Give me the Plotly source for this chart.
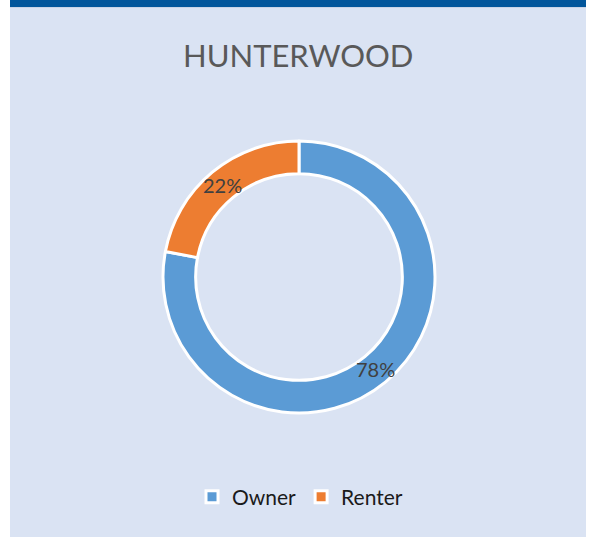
import math
import plotly.graph_objects as go

# tenure split for the neighbourhood
labels = ['Owner', 'Renter']
shares = [78, 22]
colors = ['#5B9BD5', '#ED7D31']

W, H = 590, 537
cx, cy, r_out = 299, 277, 136   # ring centre / radius in px (from top-left)
hole = 0.76

fig = go.Figure(go.Pie(
    labels=labels,
    values=shares,
    hole=hole,
    sort=False,
    direction='clockwise',
    rotation=0,
    marker=dict(colors=colors, line=dict(color='white', width=3)),
    textinfo='none',
    domain=dict(x=[(cx - r_out) / W, (cx + r_out) / W],
                y=[(H - cy - r_out) / H, (H - cy + r_out) / H]),
))

# percent labels at the middle of each slice, like excel does
total = sum(shares)
r_mid = r_out * (1 + hole) / 2
start = 0
for v in shares:
    ang = math.radians((start + v / 2) / total * 360)
    px_ = cx + r_mid * math.sin(ang)
    py_ = cy - r_mid * math.cos(ang)
    fig.add_annotation(text=f'{round(v / total * 100)}%', xref='paper', yref='paper',
                       x=px_ / W, y=(H - py_) / H, showarrow=False,
                       xanchor='center', yanchor='middle',
                       font=dict(family='Lato', size=20, color='#404040'))
    start += v

# panel background and dark band at the top
fig.add_shape(type='rect', xref='paper', yref='paper', layer='below',
              x0=10 / W, x1=586 / W, y0=0, y1=1,
              fillcolor='#DAE3F3', line_width=0)
fig.add_shape(type='rect', xref='paper', yref='paper', layer='below',
              x0=10 / W, x1=586 / W, y0=(H - 8) / H, y1=(H - 7) / H,
              fillcolor='#C9D4E6', line_width=0)
fig.add_shape(type='rect', xref='paper', yref='paper', layer='below',
              x0=10 / W, x1=586 / W, y0=(H - 7) / H, y1=1,
              fillcolor='#02569B', line_width=0)

fig.add_annotation(text='HUNTERWOOD', xref='paper', yref='paper',
                   x=297.5 / W, y=(H - 55) / H, showarrow=False,
                   xanchor='center', yanchor='middle',
                   font=dict(family='Lato', size=31, color='#595959'))

fig.update_layout(
    width=W, height=H,
    margin=dict(l=0, r=0, t=0, b=0),
    paper_bgcolor='white',
    showlegend=True,
    legend=dict(orientation='h', x=300 / W, xanchor='center',
                y=40 / H, yanchor='middle',
                font=dict(family='Lato', size=21, color='#1a1a1a'),
                bgcolor='rgba(0,0,0,0)', itemwidth=30),
)

fig.write_html('out.html', config={'displayModeBar': False},
               post_script="document.body.style.margin='0';")
